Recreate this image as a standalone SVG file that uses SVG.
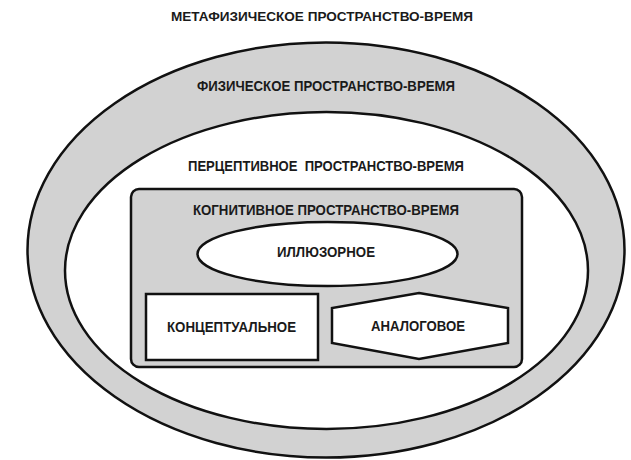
<svg xmlns="http://www.w3.org/2000/svg" width="631" height="460" viewBox="0 0 631 460">
<style>
.lbl{font-family:"Liberation Sans",Arial,sans-serif;font-weight:bold;fill:#1a1a1a;text-anchor:middle}
.gray{fill:#d2d2d2;stroke:#111;stroke-width:2.5}
.white{fill:#fff;stroke:#111;stroke-width:2.5}
</style>
<rect width="631" height="460" fill="#fff"/>
<g id="metaphysical">
<text class="lbl" x="322" y="21" font-size="13.5" textLength="302" lengthAdjust="spacingAndGlyphs">МЕТАФИЗИЧЕСКОЕ ПРОСТРАНСТВО-ВРЕМЯ</text>
</g>
<g id="physical">
<ellipse class="gray" cx="326" cy="250" rx="298.5" ry="207.5"/>
<text class="lbl" x="326" y="91" font-size="14" textLength="258" lengthAdjust="spacingAndGlyphs">ФИЗИЧЕСКОЕ ПРОСТРАНСТВО-ВРЕМЯ</text>
</g>
<g id="perceptual">
<ellipse class="white" cx="326.5" cy="270.5" rx="261.5" ry="158.5"/>
<text class="lbl" x="326" y="171" font-size="14" textLength="276" lengthAdjust="spacingAndGlyphs" xml:space="preserve">ПЕРЦЕПТИВНОЕ  ПРОСТРАНСТВО-ВРЕМЯ</text>
</g>
<g id="cognitive">
<rect class="gray" x="131" y="189" width="391" height="178" rx="8"/>
<text class="lbl" x="326" y="215" font-size="14" textLength="266" lengthAdjust="spacingAndGlyphs">КОГНИТИВНОЕ ПРОСТРАНСТВО-ВРЕМЯ</text>
</g>
<g id="illusory">
<ellipse class="white" cx="327.5" cy="254" rx="130" ry="32"/>
<text class="lbl" x="326" y="257" font-size="14" textLength="98" lengthAdjust="spacingAndGlyphs">ИЛЛЮЗОРНОЕ</text>
</g>
<g id="conceptual">
<rect class="white" x="146" y="294" width="172" height="66" stroke-width="3"/>
<text class="lbl" x="231.5" y="332" font-size="14" textLength="129" lengthAdjust="spacingAndGlyphs">КОНЦЕПТУАЛЬНОЕ</text>
</g>
<g id="analog">
<polygon class="white" points="419,293 508,308 508,343 419,359 332,343 332,308"/>
<text class="lbl" x="418" y="331" font-size="14" textLength="94" lengthAdjust="spacingAndGlyphs">АНАЛОГОВОЕ</text>
</g>
<g id="connectors"></g>
</svg>
